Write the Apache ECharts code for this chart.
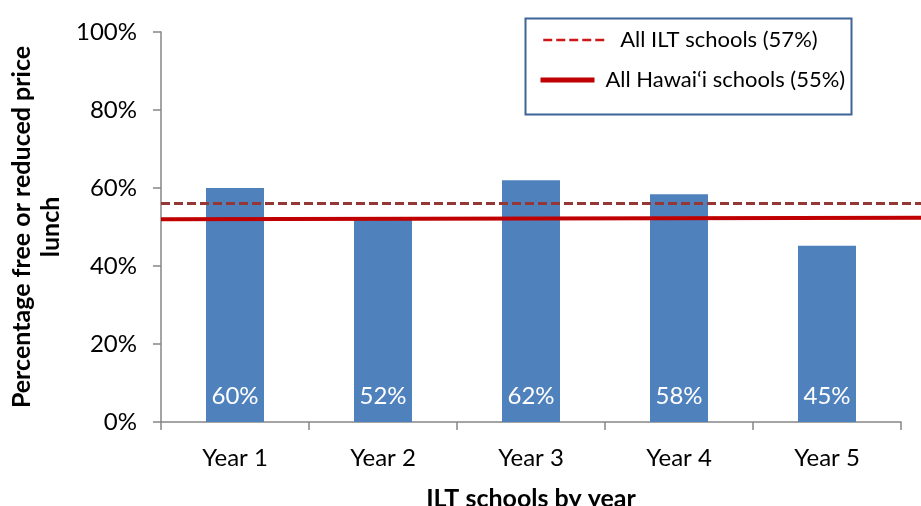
<!DOCTYPE html>
<html>
<head>
<meta charset="utf-8">
<script src="https://cdn.jsdelivr.net/npm/echarts@6/dist/echarts.min.js"></script>
<style>
html,body{margin:0;padding:0;background:#fff;}
#chart{width:921px;height:506px;}
</style>
</head>
<body>
<div id="chart"></div>
<script>
const categories = ['Year 1', 'Year 2', 'Year 3', 'Year 4', 'Year 5'];
const barValues = [60, 51.8, 62, 58.4, 45.2];
const iltLine = [56, 56];
const hawaiiLine = [52, 52.4];
const yTicks = [0, 20, 40, 60, 80, 100];
const iltName = 'All ILT schools (57%)';
const hawaiiName = 'All Hawai‘i schools (55%)';

const FONT = 'Lato';
const chart = echarts.init(document.getElementById('chart'), null, {renderer: 'canvas'});

const option = {
  animation: false,
  backgroundColor: '#ffffff',
  textStyle: {fontFamily: FONT},
  grid: [
    {left: 161, right: 20, top: 32, bottom: 84, containLabel: false, outerBoundsMode: 'none'},
    {left: 161, right: 0, top: 32, bottom: 84, containLabel: false, outerBoundsMode: 'none'}
  ],
  xAxis: [
    {
      type: 'category', gridIndex: 0, data: categories,
      boundaryGap: true,
      axisLine: {lineStyle: {color: '#868686', width: 1.5}},
      axisTick: {show: true, length: 8, lineStyle: {color: '#868686', width: 1.5}},
      axisLabel: {color: '#000', fontSize: 24, fontFamily: FONT, margin: 24},
      name: 'ILT schools by year', nameLocation: 'middle', nameGap: 64,
      nameTextStyle: {color: '#000', fontSize: 25, fontWeight: 'bold', fontFamily: FONT}
    },
    {type: 'value', gridIndex: 1, min: 0, max: 1, show: false}
  ],
  yAxis: [
    {
      type: 'value', gridIndex: 0, min: yTicks[0], max: yTicks[yTicks.length - 1], interval: 20,
      splitLine: {show: false},
      axisLine: {show: true, lineStyle: {color: '#868686', width: 1.5}},
      axisTick: {show: true, length: 8, lineStyle: {color: '#868686', width: 1.5}},
      axisLabel: {color: '#000', fontSize: 24, fontFamily: FONT, margin: 24, formatter: '{value}%'},
      name: 'Percentage free or reduced price\nlunch', nameLocation: 'middle', nameRotate: 90, nameGap: 95,
      nameTextStyle: {color: '#000', fontSize: 25, fontWeight: 'bold', fontFamily: FONT, lineHeight: 29, align: 'center'}
    },
    {type: 'value', gridIndex: 1, min: 0, max: 100, show: false}
  ],
  legend: [
    {
      data: [{name: iltName, itemStyle: {opacity: 0}, lineStyle: {color: '#CC1818', width: 2.5, type: [9, 4], opacity: 1}}],
      left: 542, top: 29, padding: 0,
      itemWidth: 63, itemHeight: 14, itemGap: 0,
      textStyle: {color: '#000', fontSize: 22, fontFamily: FONT, padding: [0, 0, 0, 9]}
    },
    {
      data: [{name: hawaiiName, itemStyle: {opacity: 0}, lineStyle: {color: '#C00000', width: 5, opacity: 1}}],
      left: 538, top: 69, padding: 0,
      itemWidth: 54, itemHeight: 14, itemGap: 0,
      textStyle: {color: '#000', fontSize: 22, fontFamily: FONT, padding: [0, 0, 0, 6]}
    }
  ],
  graphic: [
    {type: 'rect', left: 523, top: 16, shape: {width: 326, height: 96}, style: {fill: 'none', stroke: '#3F6496', lineWidth: 2}, z: 100}
  ],
  series: [
    {
      type: 'bar', xAxisIndex: 0, yAxisIndex: 0, data: barValues,
      barWidth: 58,
      itemStyle: {color: '#4F81BD'},
      label: {
        show: true, position: 'insideBottom', distance: 14, color: '#fff', fontSize: 24, fontFamily: FONT,
        formatter: p => Math.round(p.value) + '%'
      },
      z: 2
    },
    {
      name: iltName, type: 'line', xAxisIndex: 1, yAxisIndex: 1,
      data: iltLine.map((v, i) => [i, v]),
      symbol: 'none', lineStyle: {color: '#953735', width: 3, type: [9, 4]}, z: 3
    },
    {
      name: hawaiiName, type: 'line', xAxisIndex: 1, yAxisIndex: 1,
      data: hawaiiLine.map((v, i) => [i, v]),
      symbol: 'none', lineStyle: {color: '#C00000', width: 4}, z: 3
    }
  ]
};
chart.setOption(option);
</script>
</body>
</html>
